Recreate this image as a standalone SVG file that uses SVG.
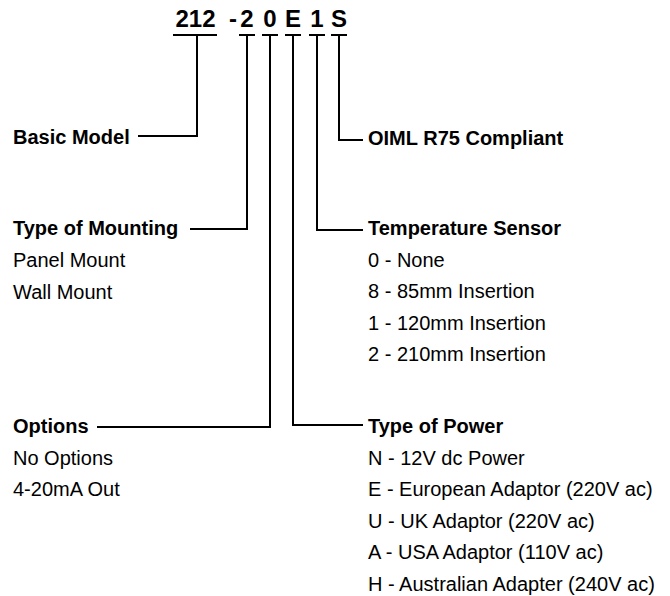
<svg xmlns="http://www.w3.org/2000/svg" width="670" height="596" viewBox="0 0 670 596">
<style>
text{font-family:"Liberation Sans",Arial,Helvetica,sans-serif;fill:#000;font-size:20px}
.b{font-weight:bold}
.code{font-weight:bold;font-size:24px;text-anchor:middle}
.ln{fill:none;stroke:#000;stroke-width:2;stroke-linejoin:miter;stroke-linecap:butt}
</style>
<rect width="670" height="596" fill="#fff"/>
<g id="code">
<text class="code" x="195.5" y="27">212</text>
<text class="code" x="233" y="27">-</text>
<text class="code" x="247" y="27">2</text>
<text class="code" x="270" y="27">0</text>
<text class="code" x="293" y="27">E</text>
<text class="code" x="317" y="27">1</text>
<text class="code" x="339" y="27">S</text>
</g>
<g id="connectors">
<path class="ln" d="M173 35H217M239 35H255M262 35H278M285 35H301M309 35H325M331 35H347"/>
<path class="ln" d="M197 35V136H138"/>
<path class="ln" d="M247 35V229H190"/>
<path class="ln" d="M270 35V427H97"/>
<path class="ln" d="M293 35V425H363"/>
<path class="ln" d="M317 35V230H363"/>
<path class="ln" d="M339 35V140H363"/>
</g>
<g id="basic-model">
<text class="b" x="13" y="144">Basic Model</text>
</g>
<g id="mounting">
<text class="b" x="13" y="235">Type of Mounting</text>
<text x="13" y="267">Panel Mount</text>
<text x="13" y="299">Wall Mount</text>
</g>
<g id="options">
<text class="b" x="13" y="433">Options</text>
<text x="13" y="465">No Options</text>
<text x="13" y="496">4-20mA Out</text>
</g>
<g id="oiml">
<text class="b" x="368" y="145">OIML R75 Compliant</text>
</g>
<g id="temperature">
<text class="b" x="368" y="235">Temperature Sensor</text>
<text x="368" y="267">0 - None</text>
<text x="368" y="298">8 - 85mm Insertion</text>
<text x="368" y="330">1 - 120mm Insertion</text>
<text x="368" y="361">2 - 210mm Insertion</text>
</g>
<g id="power">
<text class="b" x="368" y="433">Type of Power</text>
<text x="368" y="465">N - 12V dc Power</text>
<text x="368" y="496">E - European Adaptor (220V ac)</text>
<text x="368" y="528">U - UK Adaptor (220V ac)</text>
<text x="368" y="559">A - USA Adaptor (110V ac)</text>
<text x="368" y="591">H - Australian Adapter (240V ac)</text>
</g>
</svg>
